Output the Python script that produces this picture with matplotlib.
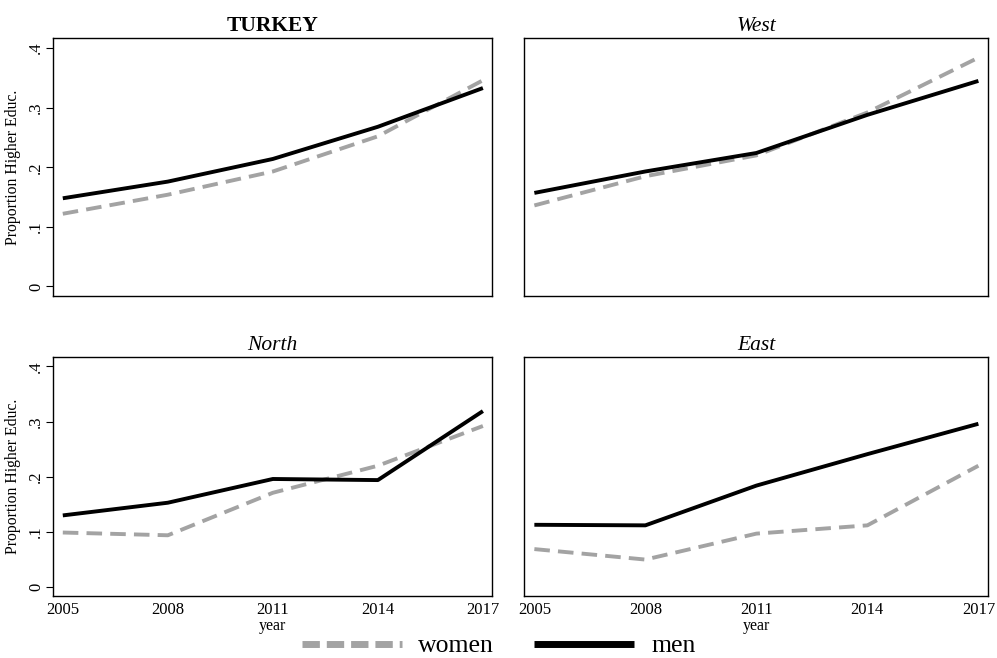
import matplotlib
matplotlib.use("Agg")
import matplotlib.pyplot as plt
from matplotlib.lines import Line2D
from matplotlib.ticker import FixedLocator, FixedFormatter

plt.rcParams['font.family'] = ['Liberation Serif', 'DejaVu Serif']

years = [2005, 2008, 2011, 2014, 2017]
panels = ["TURKEY", "West", "North", "East"]

turkey_women = [0.122, 0.154, 0.193, 0.252, 0.346]
turkey_men = [0.148, 0.176, 0.214, 0.268, 0.333]
west_women = [0.136, 0.185, 0.220, 0.292, 0.384]
west_men = [0.157, 0.193, 0.224, 0.288, 0.345]
north_women = [0.099, 0.094, 0.171, 0.220, 0.292]
north_men = [0.130, 0.153, 0.196, 0.194, 0.319]
east_women = [0.069, 0.050, 0.097, 0.112, 0.220]
east_men = [0.113, 0.112, 0.184, 0.241, 0.296]

women = [turkey_women, west_women, north_women, east_women]
men = [turkey_men, west_men, north_men, east_men]

yticks = [0, 0.1, 0.2, 0.3, 0.4]
ytick_labels = ["0", ".1", ".2", ".3", ".4"]
xtick_labels = ["2005", "2008", "2011", "2014", "2017"]

W, H = 997, 658
fig = plt.figure(figsize=(W / 100, H / 100), dpi=100)

# axes boxes in pixels: left, right, top, bottom
boxes = [(53, 492, 38, 296), (524, 988, 38, 296),
         (53, 492, 357, 596), (524, 988, 357, 596)]

gray = '#a3a3a3'
for i, (name, (l, r, t, b)) in enumerate(zip(panels, boxes)):
    ax = fig.add_axes([l / W, 1 - b / H, (r - l) / W, (b - t) / H])
    ax.plot(years, women[i], color=gray, lw=2.8, dashes=(4.0, 2.1),
            solid_capstyle='butt', dash_capstyle='butt')
    ax.plot(years, men[i], color='black', lw=2.8, solid_capstyle='butt')
    ax.set_xlim(2004.72, 2017.26)
    ax.set_ylim(-0.016, 0.417)
    for s in ax.spines.values():
        s.set_linewidth(1.0)
    if i == 0:
        ax.set_title(name, fontsize=15.5, fontweight='bold', pad=5)
    else:
        ax.set_title(name, fontsize=15.5, fontstyle='italic', pad=5)
    # y axis
    if i in (0, 2):
        ax.yaxis.set_major_locator(FixedLocator(yticks))
        ax.yaxis.set_major_formatter(FixedFormatter(ytick_labels))
        ax.tick_params(axis='y', length=5, width=0.8, pad=1.5, labelsize=12)
        for lab in ax.get_yticklabels():
            lab.set_rotation(90)
            lab.set_va('center')
        ax.set_ylabel("Proportion Higher Educ.", fontsize=11.3, labelpad=5)
    else:
        ax.set_yticks([])
    # x axis
    if i in (2, 3):
        ax.xaxis.set_major_locator(FixedLocator(years))
        ax.xaxis.set_major_formatter(FixedFormatter(xtick_labels))
        ax.tick_params(axis='x', length=0, pad=4, labelsize=12)
        ax.set_xlabel("year", fontsize=11.5, labelpad=0)
    else:
        ax.set_xticks([])

handles = [Line2D([], [], color=gray, lw=5, dashes=(2.5, 1.0), dash_capstyle='butt'),
           Line2D([], [], color='black', lw=5, solid_capstyle='butt')]
fig.legend(handles, ["women", "men"], loc='center', ncol=2,
           bbox_to_anchor=(0.5, 1 - 646 / H), frameon=False, fontsize=18.5,
           handlelength=3.9, handletextpad=0.65, columnspacing=1.55,
           borderpad=0, borderaxespad=0)

fig.savefig("out.png", dpi=100)
